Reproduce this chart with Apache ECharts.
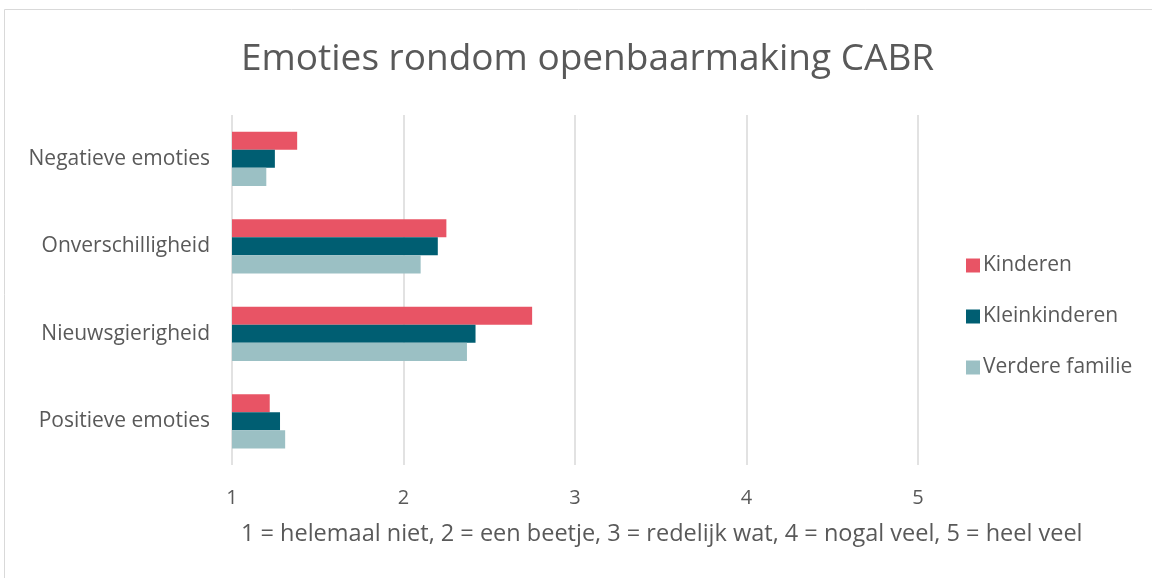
<!DOCTYPE html>
<html>
<head>
<meta charset="utf-8">
<script src="https://cdn.jsdelivr.net/npm/echarts@6/dist/echarts.min.js"></script>
<style>
  html, body { margin: 0; padding: 0; background: #fff; }
  #main { width: 1152px; height: 578px; }
</style>
</head>
<body>
<div id="main"></div>
<script>
// categories bottom to top, as ECharts draws a category y axis
const categories = ['Positieve emoties', 'Nieuwsgierigheid', 'Onverschilligheid', 'Negatieve emoties']
const kinderen = [1.22, 2.75, 2.25, 1.38]
const kleinkinderen = [1.28, 2.42, 2.20, 1.25]
const verdereFamilie = [1.31, 2.37, 2.10, 1.20]
const xTicks = [1, 2, 3, 4, 5]

const textColor = '#595959'
const font = '"Open Sans", "Noto Sans", sans-serif'

let myChart = echarts.init(document.getElementById('main'))

let bar = (name, data, color) => ({
  name: name,
  type: 'bar',
  data: data,
  barCategoryGap: '38%',
  barGap: '0%',
  itemStyle: { color: color },
  emphasis: { disabled: true }
})

myChart.setOption({
  animation: false,
  textStyle: { fontFamily: font },
  title: {
    text: 'Emoties rondom openbaarmaking CABR',
    left: 236,
    top: 36,
    textStyle: { fontSize: 37, fontWeight: 'normal', color: textColor, fontFamily: font }
  },
  graphic: [
    {
      type: 'rect',
      shape: { x: 4.5, y: 9.5, width: 1200, height: 700 },
      style: { fill: 'none', stroke: '#d9d9d9', lineWidth: 1 },
      silent: true
    },
    {
      type: 'text',
      left: 241,
      top: 522,
      style: {
        text: '1 = helemaal niet, 2 = een beetje, 3 = redelijk wat, 4 = nogal veel, 5 = heel veel',
        fill: textColor,
        font: '23.5px ' + font
      }
    }
  ],
  legend: {
    orient: 'vertical',
    left: 961,
    top: 250,
    itemGap: 30,
    itemWidth: 14,
    itemHeight: 14,
    icon: 'rect',
    data: ['Kinderen', 'Kleinkinderen', 'Verdere familie'],
    textStyle: { fontSize: 21, color: textColor, fontFamily: font, padding: [0, 0, 0, -2] }
  },
  grid: { left: 232, right: 234, top: 115, height: 350, containLabel: false },
  xAxis: {
    type: 'value',
    min: xTicks[0],
    max: xTicks[xTicks.length - 1],
    interval: 1,
    axisLine: { show: false },
    axisTick: { show: false },
    axisLabel: { color: textColor, fontSize: 20, margin: 23 },
    splitLine: { lineStyle: { color: '#d9d9d9', width: 1.5 } }
  },
  yAxis: {
    type: 'category',
    data: categories,
    axisLine: { show: false },
    axisTick: { show: false },
    axisLabel: { color: textColor, fontSize: 21, margin: 22 }
  },
  series: [
    bar('Kinderen', kinderen, '#e85465'),
    bar('Kleinkinderen', kleinkinderen, '#005e72'),
    bar('Verdere familie', verdereFamilie, '#9bc0c4')
  ]
})
</script>
</body>
</html>
